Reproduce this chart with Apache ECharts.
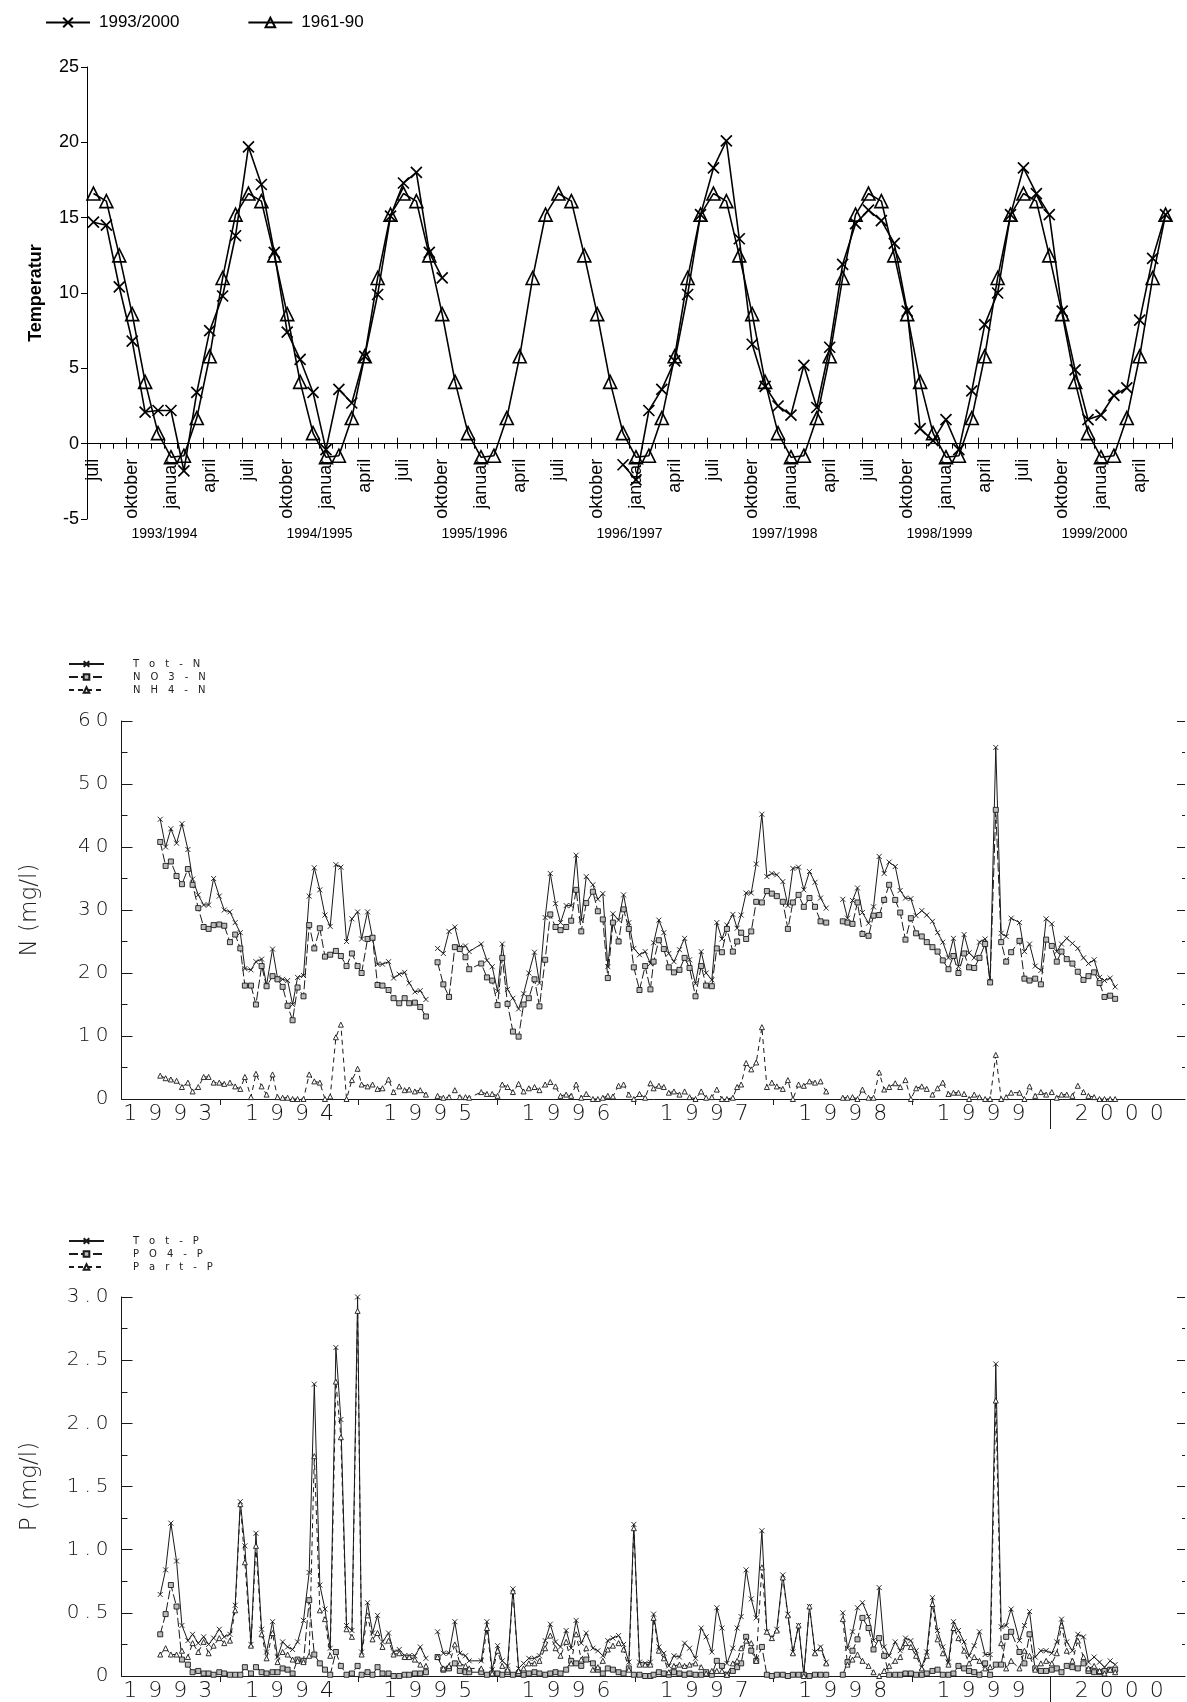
<!DOCTYPE html>
<html>
<head>
<meta charset="utf-8"/>
<title>Temperatur, nitrogen og fosfor 1993-2000</title>
<script src="https://cdn.jsdelivr.net/npm/echarts@6.0.0/dist/echarts.min.js"></script>
<style type="text/css">
  body { margin: 0; background: #fff; }
  #main { width: 1187px; height: 1702px; }
</style>
</head>
<body>
<div id="main"></div>
<script type="text/javascript">
// ---- temperatur ----
var monthNames = ['juli','august','september','oktober','november','desember','januar','februar','mars','april','mai','juni'];
var seasons = ['1993/1994','1994/1995','1995/1996','1996/1997','1997/1998','1998/1999','1999/2000'];
var temp9300 = [
  14.7, 14.5, 10.4, 6.8, 2.1, 2.2, 2.2, -1.8, 3.4, 7.5, 9.8, 13.8,
  19.7, 17.2, 12.7, 7.4, 5.6, 3.4, -0.4, 3.6, 2.7, 5.8, 9.9, 15.1,
  17.3, 18.0, 12.7, 11.0, null, null, null, null, null, null, null, null,
  null, null, null, null, null, -1.4, -2.4, 2.2, 3.6, 5.5, 9.9, 15.2,
  18.3, 20.1, 13.6, 6.6, 3.8, 2.5, 1.9, 5.2, 2.4, 6.4, 11.9, 14.6,
  15.5, 14.8, 13.3, 8.8, 1.0, 0.2, 1.6, -0.4, 3.5, 7.9, 10.0, 15.2,
  18.3, 16.6, 15.2, 8.8, 4.9, 1.6, 1.9, 3.2, 3.7, 8.2, 12.3, 15.2
];
var temp6190 = [
  16.6, 16.1, 12.5, 8.6, 4.1, 0.7, -0.9, -0.8, 1.7, 5.8, 11.0, 15.2,
  16.6, 16.1, 12.5, 8.6, 4.1, 0.7, -0.9, -0.8, 1.7, 5.8, 11.0, 15.2,
  16.6, 16.1, 12.5, 8.6, 4.1, 0.7, -0.9, -0.8, 1.7, 5.8, 11.0, 15.2,
  16.6, 16.1, 12.5, 8.6, 4.1, 0.7, -0.9, -0.8, 1.7, 5.8, 11.0, 15.2,
  16.6, 16.1, 12.5, 8.6, 4.1, 0.7, -0.9, -0.8, 1.7, 5.8, 11.0, 15.2,
  16.6, 16.1, 12.5, 8.6, 4.1, 0.7, -0.9, -0.8, 1.7, 5.8, 11.0, 15.2,
  16.6, 16.1, 12.5, 8.6, 4.1, 0.7, -0.9, -0.8, 1.7, 5.8, 11.0, 15.2
];

// ---- prøvedatoer (desimalår), null-verdi = brudd i serien ----
var sampleDates = [
  1993.566, 1993.605, 1993.643, 1993.684, 1993.723, 1993.766, 1993.800, 1993.841, 1993.880, 1993.916,
  1993.952, 1993.993, 1994.029, 1994.070, 1994.108, 1994.145, 1994.178, 1994.222, 1994.258, 1994.299,
  1994.335, 1994.378, 1994.414, 1994.451, 1994.487, 1994.523, 1994.559, 1994.602, 1994.643, 1994.680,
  1994.720, 1994.757, 1994.795, 1994.836, 1994.872, 1994.913, 1994.952, 1994.993, 1995.022, 1995.065,
  1995.101, 1995.137, 1995.173, 1995.217, 1995.253, 1995.294, 1995.333, 1995.366, 1995.407, 1995.446,
  1995.487,
  1995.530,
  1995.571, 1995.613, 1995.654, 1995.696, 1995.732, 1995.773, 1995.800, 1995.887, 1995.928, 1995.966,
  1996.005, 1996.039, 1996.077, 1996.116, 1996.157, 1996.193, 1996.231, 1996.272, 1996.308, 1996.349,
  1996.386, 1996.424, 1996.460, 1996.501, 1996.537, 1996.573, 1996.610, 1996.646, 1996.694, 1996.730,
  1996.766, 1996.802, 1996.839, 1996.880, 1996.916, 1996.954, 1996.990, 1997.031, 1997.072, 1997.110,
  1997.133, 1997.171, 1997.207, 1997.243, 1997.280, 1997.320, 1997.357, 1997.393, 1997.436, 1997.477,
  1997.513, 1997.554, 1997.590, 1997.627, 1997.663, 1997.706, 1997.737, 1997.766, 1997.802, 1997.839,
  1997.875, 1997.916, 1997.952, 1997.988, 1998.024, 1998.067, 1998.104, 1998.140, 1998.181, 1998.219,
  1998.260, 1998.300, 1998.340, 1998.381,
  1998.440,
  1998.501, 1998.535, 1998.571, 1998.607, 1998.643, 1998.687, 1998.723, 1998.764, 1998.800, 1998.836,
  1998.880, 1998.916, 1998.954, 1998.993, 1999.031, 1999.072, 1999.108, 1999.149, 1999.186, 1999.224,
  1999.265, 1999.301, 1999.337, 1999.378, 1999.414, 1999.451, 1999.489, 1999.530, 1999.566, 1999.607,
  1999.646, 1999.682, 1999.718, 1999.778, 1999.814, 1999.851, 1999.892, 1999.933, 1999.971, 2000.012,
  2000.048, 2000.082, 2000.120, 2000.161, 2000.200, 2000.241, 2000.277, 2000.318, 2000.357, 2000.393,
  2000.434, 2000.470
];

// ---- nitrogen (mg/l) ----
var totN = [
  44.4, 40.0, 42.9, 40.6, 43.7, 39.6, 34.9, 32.4, 30.8, 30.8,
  35.0, 32.2, 30.0, 29.7, 28.0, 26.4, 20.7, 20.5, 21.8, 22.2,
  18.1, 23.8, 19.2, 19.0, 18.8, 15.0, 19.3, 19.6, 32.2, 36.7,
  33.2, 29.2, 27.4, 37.2, 36.8, 25.0, 28.6, 29.7, 25.4, 29.7,
  25.5, 21.4, 21.4, 21.8, 19.2, 19.8, 20.1, 18.4, 17.0, 17.2,
  15.8,
  null,
  23.9, 23.1, 26.6, 27.3, 24.1, 24.3, 23.4, 24.6, 22.0, 21.0,
  17.1, 24.6, 17.4, 16.0, 14.3, 16.7, 20.0, 23.3, 18.4, 28.8,
  35.8, 31.0, 28.0, 30.7, 30.7, 38.7, 28.4, 35.3, 34.0, 31.7,
  32.6, 21.0, 29.4, 28.4, 32.4, 28.0, 23.9, 22.9, 23.4, 21.5,
  24.8, 28.4, 26.4, 23.1, 21.8, 23.7, 25.5, 22.1, 18.3, 23.4,
  20.0, 18.9, 28.0, 25.4, 27.6, 29.3, 27.1, 29.2, 32.7, 32.7,
  37.3, 45.2, 35.3, 35.8, 35.6, 34.5, 30.7, 36.6, 36.8, 33.2,
  36.1, 34.4, 31.9, 30.3,
  null,
  31.7, 28.7, 31.5, 33.5, 29.6, 27.9, 30.5, 38.5, 35.8, 37.6,
  36.9, 33.1, 31.9, 31.8, 29.1, 29.9, 29.2, 28.2, 26.4, 24.9,
  22.4, 25.5, 21.0, 26.1, 23.2, 22.4, 24.9, 25.4, 18.7, 55.8,
  26.3, 25.8, 28.7, 28.0, 23.4, 24.6, 21.1, 20.4, 28.6, 27.8,
  23.4, 24.6, 25.5, 24.7, 23.9, 22.4, 21.5, 22.1, 19.3, 18.8,
  19.2, 17.8
];
var no3N = [
  40.8, 37.0, 37.7, 35.4, 34.1, 36.5, 34.0, 30.3, 27.3, 27.0,
  27.6, 27.7, 27.5, 24.9, 26.1, 23.9, 18.0, 18.0, 15.0, 21.1,
  17.9, 19.5, 19.0, 17.8, 14.8, 12.5, 17.7, 16.3, 27.6, 23.9,
  27.1, 22.6, 22.9, 23.5, 22.7, 21.1, 23.1, 21.1, 20.0, 25.4,
  25.6, 18.1, 18.0, 17.3, 16.0, 15.2, 16.0, 15.2, 15.3, 14.6,
  13.1,
  null,
  21.7, 18.2, 16.2, 24.1, 23.8, 22.5, 20.6, 21.5, 19.3, 18.8,
  14.9, 22.4, 15.1, 10.7, 9.9, 15.0, 16.0, 19.0, 14.7, 22.1,
  29.3, 27.3, 26.8, 27.3, 28.3, 33.2, 26.6, 31.1, 32.9, 29.8,
  28.5, 19.2, 28.0, 25.0, 30.1, 27.0, 20.9, 17.3, 21.1, 17.4,
  21.8, 25.2, 23.8, 20.9, 20.1, 20.5, 22.4, 20.8, 16.3, 21.1,
  18.0, 17.9, 23.9, 23.3, 27.0, 23.4, 25.0, 26.4, 25.4, 26.6,
  31.3, 31.2, 33.0, 32.6, 32.2, 31.3, 27.0, 31.2, 32.4, 30.5,
  31.9, 30.5, 28.2, 28.0,
  null,
  28.2, 28.0, 27.8, 31.2, 26.2, 25.9, 29.1, 29.2, 31.6, 34.0,
  31.6, 29.6, 25.3, 28.7, 26.3, 25.8, 24.9, 24.1, 23.4, 22.0,
  20.6, 22.7, 20.0, 23.1, 20.9, 20.8, 22.4, 24.6, 18.5, 45.9,
  24.9, 21.8, 23.3, 25.1, 19.1, 18.8, 19.1, 18.2, 25.3, 24.3,
  21.8, 23.4, 22.2, 21.5, 20.2, 18.9, 19.5, 20.1, 18.4, 16.2,
  16.4, 15.9
];
var nh4N = [
  3.7, 3.3, 3.1, 2.9, 1.9, 2.6, 1.2, 1.9, 3.5, 3.5,
  2.6, 2.6, 2.4, 2.6, 2.0, 1.6, 3.5, 0.3, 4.0, 2.0,
  0.7, 3.9, 0.3, 0.2, 0.2, 0.0, 0.0, 0.0, 3.9, 2.8,
  2.6, 0.0, 0.4, 9.8, 11.8, 0.0, 3.0, 4.8, 2.3, 2.0,
  2.3, 1.6, 1.7, 3.1, 1.1, 2.0, 1.4, 1.5, 1.2, 1.4,
  0.7,
  null,
  0.5, 0.2, 0.3, 1.4, 0.3, 0.3, 0.2, 1.1, 0.8, 0.8,
  0.5, 2.3, 1.9, 1.1, 2.4, 1.2, 1.7, 1.9, 1.4, 2.3,
  2.7, 2.0, 0.5, 0.7, 0.5, 2.3, 0.2, 0.8, 0.0, 0.0,
  0.2, 0.5, 0.4, 2.1, 2.3, 0.7, 0.0, 0.8, 0.2, 2.5,
  1.7, 2.1, 1.9, 1.0, 1.2, 0.7, 1.2, 0.3, 0.0, 1.2,
  0.2, 0.3, 1.5, 0.0, 0.0, 0.2, 1.9, 2.3, 5.7, 4.7,
  5.8, 11.4, 1.9, 2.6, 2.0, 1.6, 3.0, 0.0, 2.3, 2.1,
  2.8, 2.6, 2.8, 1.2,
  null,
  0.2, 0.2, 0.3, 0.0, 1.5, 0.2, 0.2, 4.2, 1.5, 1.9,
  2.5, 1.9, 3.0, 0.0, 1.7, 2.0, 1.6, 0.7, 1.7, 2.6,
  0.8, 1.0, 1.0, 0.8, 0.0, 0.7, 0.3, 0.0, 0.0, 7.0,
  0.0, 0.3, 1.0, 1.0, 0.0, 2.0, 0.5, 1.1, 0.7, 1.1,
  0.2, 0.7, 0.7, 0.5, 2.1, 1.1, 0.5, 0.3, 0.0, 0.0,
  0.0, 0.0
];

// ---- fosfor (mg/l) ----
var totP = [
  0.645, 0.84, 1.21, 0.91, 0.40, 0.28, 0.33, 0.26, 0.31, 0.25,
  0.30, 0.37, 0.31, 0.33, 0.56, 1.38, 1.03, 0.25, 1.13, 0.37,
  0.19, 0.43, 0.15, 0.27, 0.23, 0.21, 0.27, 0.44, 0.82, 2.31,
  0.72, 0.53, 0.22, 2.60, 2.03, 0.40, 0.36, 3.00, 0.19, 0.58,
  0.34, 0.48, 0.27, 0.34, 0.19, 0.21, 0.16, 0.16, 0.16, 0.23,
  0.14,
  null,
  0.35, 0.18, 0.18, 0.43, 0.18, 0.16, 0.12, 0.12, 0.43, 0.05,
  0.24, 0.12, 0.08, 0.69, 0.06, 0.10, 0.14, 0.14, 0.16, 0.28,
  0.41, 0.27, 0.23, 0.36, 0.22, 0.44, 0.26, 0.34, 0.22, 0.20,
  0.16, 0.28, 0.30, 0.32, 0.25, 0.11, 1.20, 0.11, 0.10, 0.11,
  0.49, 0.23, 0.18, 0.08, 0.16, 0.15, 0.26, 0.22, 0.14, 0.38,
  0.31, 0.19, 0.54, 0.38, 0.10, 0.22, 0.38, 0.47, 0.84, 0.61,
  0.46, 1.15, 0.35, 0.30, 0.37, 0.80, 0.49, 0.19, 0.40, 0.01,
  0.55, 0.19, 0.23, 0.11,
  null,
  0.50, 0.22, 0.35, 0.54, 0.58, 0.47, 0.28, 0.70, 0.23, 0.16,
  0.27, 0.20, 0.30, 0.28, 0.20, 0.07, 0.19, 0.62, 0.36, 0.23,
  0.11, 0.43, 0.36, 0.27, 0.16, 0.24, 0.35, 0.17, 0.17, 2.47,
  0.39, 0.40, 0.53, 0.28, 0.40, 0.51, 0.15, 0.20, 0.20, 0.18,
  0.27, 0.45, 0.27, 0.20, 0.33, 0.31, 0.11, 0.15, 0.11, 0.07,
  0.12, 0.09
];
var po4P = [
  0.33, 0.49, 0.72, 0.55, 0.13, 0.09, 0.03, 0.04, 0.02, 0.02,
  0.01, 0.03, 0.02, 0.01, 0.01, 0.01, 0.07, 0.02, 0.07, 0.03,
  0.02, 0.03, 0.03, 0.06, 0.05, 0.02, 0.13, 0.12, 0.60, 0.17,
  0.10, 0.05, 0.01, 0.19, 0.08, 0.01, 0.02, 0.08, 0.01, 0.03,
  0.01, 0.07, 0.02, 0.02, 0.00, 0.00, 0.01, 0.01, 0.02, 0.02,
  0.03,
  null,
  0.15, 0.05, 0.06, 0.10, 0.04, 0.03, 0.03, 0.03, 0.01, 0.02,
  0.02, 0.01, 0.03, 0.01, 0.02, 0.01, 0.02, 0.03, 0.02, 0.01,
  0.02, 0.03, 0.02, 0.05, 0.12, 0.10, 0.08, 0.13, 0.10, 0.05,
  0.02, 0.06, 0.05, 0.03, 0.02, 0.06, 0.01, 0.01, 0.00, 0.00,
  0.01, 0.03, 0.02, 0.01, 0.03, 0.02, 0.01, 0.02, 0.01, 0.01,
  0.03, 0.01, 0.12, 0.08, 0.01, 0.04, 0.07, 0.10, 0.31, 0.20,
  0.12, 0.23, 0.01, 0.00, 0.01, 0.01, 0.00, 0.01, 0.01, 0.01,
  0.00, 0.01, 0.01, 0.01,
  null,
  0.01, 0.11, 0.20, 0.29, 0.46, 0.38, 0.21, 0.30, 0.16, 0.01,
  0.01, 0.01, 0.02, 0.02, 0.01, 0.01, 0.02, 0.04, 0.05, 0.01,
  0.01, 0.02, 0.08, 0.06, 0.04, 0.03, 0.01, 0.10, 0.01, 0.09,
  0.09, 0.31, 0.35, 0.19, 0.10, 0.33, 0.06, 0.04, 0.04, 0.05,
  0.06, 0.03, 0.08, 0.07, 0.06, 0.10, 0.04, 0.03, 0.03, 0.04,
  0.05, 0.05
];
var partP = [
  0.17, 0.22, 0.17, 0.17, 0.20, 0.15, 0.26, 0.19, 0.27, 0.18,
  0.24, 0.30, 0.26, 0.28, 0.52, 1.36, 0.90, 0.24, 1.03, 0.33,
  0.14, 0.34, 0.11, 0.19, 0.17, 0.13, 0.12, 0.11, 0.16, 1.74,
  0.52, 0.45, 0.16, 2.33, 1.89, 0.37, 0.31, 2.89, 0.17, 0.48,
  0.29, 0.34, 0.23, 0.28, 0.17, 0.18, 0.15, 0.15, 0.13, 0.09,
  0.08,
  null,
  0.15, 0.06, 0.08, 0.25, 0.10, 0.08, 0.06, 0.06, 0.38, 0.02,
  0.20, 0.08, 0.05, 0.67, 0.04, 0.06, 0.10, 0.10, 0.12, 0.22,
  0.32, 0.22, 0.16, 0.27, 0.10, 0.33, 0.13, 0.22, 0.05, 0.07,
  0.12, 0.21, 0.24, 0.26, 0.21, 0.05, 1.17, 0.09, 0.09, 0.09,
  0.46, 0.20, 0.14, 0.03, 0.08, 0.09, 0.08, 0.09, 0.10, 0.07,
  0.02, 0.04, 0.04, 0.04, 0.01, 0.10, 0.12, 0.22, 0.28, 0.26,
  0.12, 0.86, 0.35, 0.30, 0.36, 0.78, 0.48, 0.18, 0.40, 0.00,
  0.55, 0.18, 0.22, 0.10,
  null,
  0.45, 0.09, 0.13, 0.17, 0.12, 0.08, 0.03, 0.00, 0.04, 0.08,
  0.12, 0.15, 0.26, 0.23, 0.16, 0.06, 0.16, 0.57, 0.29, 0.18,
  0.09, 0.38, 0.30, 0.20, 0.10, 0.15, 0.12, 0.06, 0.07, 2.18,
  0.26, 0.06, 0.12, 0.06, 0.20, 0.16, 0.05, 0.10, 0.12, 0.10,
  0.18, 0.40, 0.20, 0.12, 0.28, 0.15, 0.06, 0.08, 0.04, 0.02,
  0.05, 0.03
];

var yearTicks = [1994, 1995, 1996, 1997, 1998, 1999, 2000];
// the first year label is pushed right so it starts at the axis
var yearLabelPos = [1993.62, 1994.5, 1995.5, 1996.5, 1997.5, 1998.5, 1999.5, 2000.5];

var monthCats = [];
seasons.forEach(function (s) {
  monthNames.forEach(function (m) { monthCats.push(m); });
});

function pairs(vals) {
  return sampleDates.map(function (d, i) { return [d, vals[i]]; });
}
function spaced(str, sep) {
  return String(str).split('').join(sep);
}

var narrow = "'Liberation Sans Narrow', 'Arial Narrow', 'Liberation Sans', sans-serif";
var plotter = "'DejaVu Sans', sans-serif";
var crossSym = 'path://M0,0L10,10M10,0L0,10';
var ink = '#1a1a1a';
// temperature x axis sits on 0 degC: 5 of 30 degrees above the grid bottom (grid height 452)
var zeroOffset = -452 * 5 / 30;

function timeX(gridIndex) {
  return [{
    type: 'value', gridIndex: gridIndex, min: 1993.286, max: 2000.975, position: 'bottom',
    axisLine: { show: true, onZero: false, lineStyle: { color: ink, width: 1 } },
    axisTick: { show: true, customValues: yearTicks, length: 6, lineStyle: { color: ink } },
    axisLabel: {
      customValues: yearLabelPos, margin: 4, fontSize: 22, fontFamily: plotter,
      fontWeight: 200, color: '#111',
      formatter: function (v) { return spaced(Math.floor(v), '\u2002'); }
    },
    splitLine: { show: false }
  }, {
    type: 'value', gridIndex: gridIndex, min: 1993.286, max: 2000.975, position: 'bottom',
    axisLine: { show: false },
    axisTick: { show: true, customValues: [2000], length: 30, lineStyle: { color: ink } },
    axisLabel: { show: false },
    splitLine: { show: false }
  }];
}

function concY(gridIndex, max, step, name, fmt) {
  return [{
    type: 'value', gridIndex: gridIndex, min: 0, max: max, interval: step, position: 'left',
    name: name, nameLocation: 'middle', nameGap: 80, nameRotate: 90,
    nameTextStyle: { fontSize: 23, fontFamily: plotter, fontWeight: 200, color: '#222' },
    axisLine: { show: true, lineStyle: { color: ink, width: 1 } },
    axisTick: { show: true, inside: true, length: 11, lineStyle: { color: ink } },
    minorTick: { show: true, splitNumber: 2, length: 6, lineStyle: { color: ink } },
    axisLabel: { margin: 13, fontSize: 20, fontFamily: plotter, fontWeight: 200, color: '#111', formatter: fmt },
    splitLine: { show: false }
  }, {
    type: 'value', gridIndex: gridIndex, min: 0, max: max, interval: step, position: 'right',
    axisLine: { show: false },
    axisTick: { show: true, inside: true, length: 8, lineStyle: { color: ink } },
    minorTick: { show: true, splitNumber: 2, length: 3, lineStyle: { color: ink } },
    axisLabel: { show: false },
    splitLine: { show: false }
  }];
}

function concSeries(name, vals, xi, yi, dash, sym, fill) {
  return {
    name: name, type: 'line', xAxisIndex: xi, yAxisIndex: yi, data: pairs(vals),
    symbol: sym, symbolSize: 5, showAllSymbol: true,
    lineStyle: { color: ink, width: 1, type: dash },
    itemStyle: { color: fill, borderColor: ink, borderWidth: 0.9 },
    emphasis: { disabled: true }
  };
}

function smallLegend(names, top) {
  return {
    data: names, orient: 'vertical', left: 63, top: top,
    itemWidth: 35, itemHeight: 7, itemGap: 3,
    textStyle: { fontSize: 10, fontFamily: plotter, color: '#222', padding: [0, 0, 0, 24] },
    formatter: function (n) { return spaced(n, '\u2003'); }
  };
}

var chart = echarts.init(document.getElementById('main'), null, { renderer: 'canvas' });

var option = {
  animation: false,
  backgroundColor: '#fff',
  grid: [
    { left: 87, right: 15, top: 67, bottom: 1183, outerBoundsMode: 'none' },
    { left: 87, right: 15, top: 519, height: 1, outerBoundsMode: 'none' },
    { left: 121.5, right: 2, top: 721, bottom: 603, outerBoundsMode: 'none' },
    { left: 121.5, right: 2, top: 1297, bottom: 26, outerBoundsMode: 'none' }
  ],
  legend: [{
    data: ['1993/2000', '1961-90'], left: 40, top: 9, itemWidth: 44, itemHeight: 12, itemGap: 68,
    textStyle: { fontSize: 17, fontFamily: narrow, color: '#000', padding: [0, 0, 0, 4] }
  },
  smallLegend(['Tot-N', 'NO3-N', 'NH4-N'], 654),
  smallLegend(['Tot-P', 'PO4-P', 'Part-P'], 1231)
  ],
  xAxis: [{
    type: 'category', gridIndex: 0, data: monthCats, boundaryGap: true, position: 'bottom',
    offset: zeroOffset,
    axisLine: { show: true, onZero: false, lineStyle: { color: '#000', width: 1 } },
    axisTick: { show: true, interval: 0, length: 5, lineStyle: { color: '#000' } },
    axisLabel: { interval: 2, rotate: 90, margin: 15, fontSize: 18, fontFamily: narrow, color: '#000' },
    splitLine: { show: false }
  }, {
    type: 'category', gridIndex: 1, data: seasons, boundaryGap: true, position: 'bottom',
    axisLine: { show: false }, axisTick: { show: false },
    axisLabel: { margin: 7, fontSize: 14, fontFamily: narrow, color: '#000' }
  }, {
    // longer quarter ticks pointing up from the 0-line
    type: 'category', gridIndex: 0, data: monthCats, boundaryGap: true, position: 'bottom',
    offset: zeroOffset,
    axisLine: { show: false },
    axisTick: { show: true, interval: 2, inside: true, length: 6, lineStyle: { color: '#000' } },
    axisLabel: { show: false },
    splitLine: { show: false }
  }].concat(timeX(2), timeX(3)),
  yAxis: [{
    type: 'value', gridIndex: 0, min: -5, max: 25, interval: 5,
    name: 'Temperatur', nameLocation: 'middle', nameGap: 42, nameRotate: 90,
    nameTextStyle: { fontSize: 18, fontWeight: 'bold', fontFamily: narrow, color: '#000' },
    axisLine: { show: true, onZero: false, lineStyle: { color: '#000', width: 1 } },
    axisTick: { show: true, length: 6, lineStyle: { color: '#000' } },
    axisLabel: { margin: 8, fontSize: 18, fontFamily: narrow, color: '#000' },
    splitLine: { show: false }
  }, {
    type: 'value', gridIndex: 1, show: false
  }].concat(
    concY(2, 60, 10, 'N (mg/l)', function (v) { return spaced(v, '\u2005'); }),
    concY(3, 3, 0.5, 'P (mg/l)', function (v) { return spaced(v === 0 ? '0' : v.toFixed(1), '\u2005'); })
  ),
  series: [{
    name: '1993/2000', type: 'line', xAxisIndex: 0, yAxisIndex: 0, data: temp9300,
    symbol: crossSym, symbolSize: 11, showAllSymbol: true,
    lineStyle: { color: '#000', width: 1.6 },
    itemStyle: { color: '#000', borderColor: '#000', borderWidth: 1.7 },
    emphasis: { disabled: true }
  }, {
    name: '1961-90', type: 'line', xAxisIndex: 0, yAxisIndex: 0, data: temp6190,
    symbol: 'triangle', symbolSize: 13, showAllSymbol: true,
    lineStyle: { color: '#000', width: 1.6 },
    itemStyle: { color: 'rgba(255,255,255,0)', borderColor: '#000', borderWidth: 1.6 },
    emphasis: { disabled: true }
  },
  concSeries('Tot-N', totN, 3, 2, 'solid', crossSym, ink),
  concSeries('NO3-N', no3N, 3, 2, [9, 3], 'rect', '#bbb'),
  concSeries('NH4-N', nh4N, 3, 2, [5, 4], 'triangle', '#fff'),
  concSeries('Tot-P', totP, 5, 4, 'solid', crossSym, ink),
  concSeries('PO4-P', po4P, 5, 4, [9, 3], 'rect', '#bbb'),
  concSeries('Part-P', partP, 5, 4, [5, 4], 'triangle', '#fff')
  ]
};
chart.setOption(option);
</script>
</body>
</html>
